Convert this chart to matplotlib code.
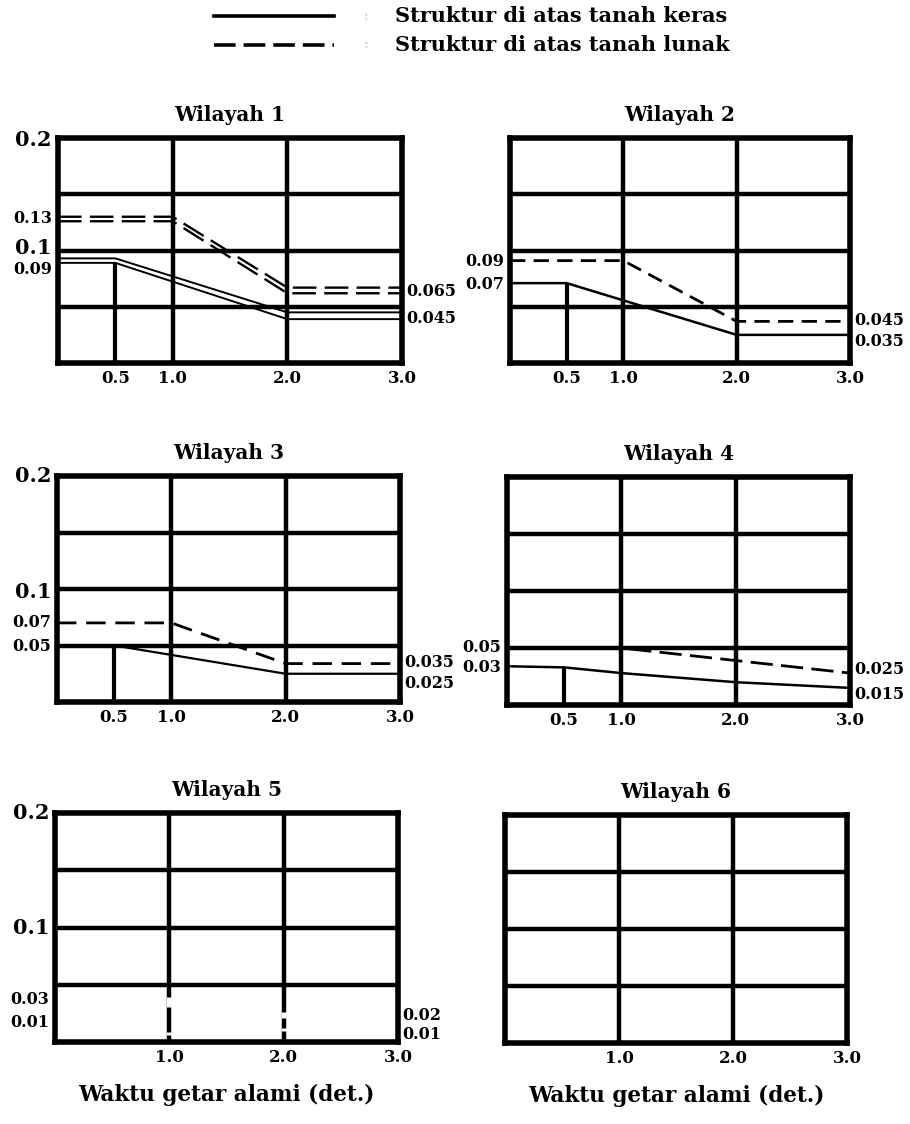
import numpy as np
import matplotlib
matplotlib.use("Agg")
import matplotlib.pyplot as plt
from matplotlib import transforms
from matplotlib.lines import Line2D

plt.rcParams["font.family"] = "DejaVu Serif"
plt.rcParams["font.weight"] = "bold"

# --- data (waktu getar T in det., koefisien C) ---
w1_keras_t = [0.0, 0.5, 2.0, 3.0]
w1_keras_upper = [0.093, 0.093, 0.045, 0.045]
w1_keras_lower = [0.089, 0.089, 0.039, 0.039]
w1_lunak_t = [0.0, 1.0, 2.0, 3.0]
w1_lunak_upper = [0.130, 0.130, 0.067, 0.067]
w1_lunak_lower = [0.126, 0.126, 0.062, 0.062]

w2_keras_t = [0.0, 0.5, 2.0, 3.0]
w2_keras = [0.071, 0.071, 0.025, 0.025]
w2_lunak_t = [0.0, 1.0, 2.0, 3.0]
w2_lunak = [0.091, 0.091, 0.037, 0.037]

w3_keras_t = [0.0, 0.5, 2.0, 3.0]
w3_keras = [0.050, 0.050, 0.025, 0.025]
w3_lunak_t = [0.0, 1.0, 2.0, 3.0]
w3_lunak = [0.070, 0.070, 0.034, 0.034]

w4_keras_t = [0.0, 0.5, 1.0, 2.0, 3.0]
w4_keras = [0.034, 0.033, 0.028, 0.020, 0.015]
w4_lunak_t = [0.0, 1.0, 2.0, 3.0]
w4_lunak = [0.050, 0.050, 0.039, 0.028]

# tick / value labels
w1_left = ["0.2", "0.13", "0.1", "0.09"]
w1_right = ["0.065", "0.045"]
w2_left = ["0.09", "0.07"]
w2_right = ["0.045", "0.035"]
w3_left = ["0.2", "0.1", "0.07", "0.05"]
w3_right = ["0.035", "0.025"]
w4_left = ["0.05", "0.03"]
w4_right = ["0.025", "0.015"]
w5_left = ["0.2", "0.1", "0.03", "0.01"]
w5_right = ["0.02", "0.01"]
xlabels_full = ["0.5", "1.0", "2.0", "3.0"]
xlabels_short = ["1.0", "2.0", "3.0"]

hgrid = [0.05, 0.1, 0.15]
vgrid = [1.0, 2.0]

legend_texts = ["Struktur di atas tanah keras", "Struktur di atas tanah lunak"]
xlabel_text = "Waktu getar alami (det.)"

# --- layout (pixels in a 910x1124 canvas) ---
W, H = 910, 1124
fig = plt.figure(figsize=(W / 100, H / 100), dpi=100)


def px_axes(left, top, right, bottom):
    return fig.add_axes([left / W, 1 - bottom / H, (right - left) / W, (bottom - top) / H])


def shift(dx, dy):
    # pixel offset (dy positive = up)
    return transforms.ScaledTranslation(dx / 100, dy / 100, fig.dpi_scale_trans)


def base_panel(ax, title, xlabels, left, right, left_nudge, right_nudge):
    ax.set_xlim(0, 3)
    ax.set_ylim(0, 0.2)
    for sp in ax.spines.values():
        sp.set_linewidth(4)
        sp.set_capstyle("projecting")
    for y in hgrid:
        ax.axhline(y, color="black", lw=3.2, zorder=1)
    for x in vgrid:
        ax.axvline(x, color="black", lw=3.2, zorder=1)
    ax.set_xticks([float(s) for s in xlabels], xlabels)
    ax.set_yticks([])
    ax.tick_params(axis="x", length=0, pad=5, labelsize=12)
    ax.set_title(title, fontsize=14.5, fontweight="bold", pad=12)

    left_tr = transforms.blended_transform_factory(ax.transAxes, ax.transData)
    for s, dy in zip(left, left_nudge):
        size = 15 if s in ("0.2", "0.1") else 11.5
        ax.text(0, float(s), s, transform=left_tr + shift(-6, dy), ha="right",
                va="center", fontsize=size, fontweight="bold", clip_on=False)
    for s, dy in zip(right, right_nudge):
        ax.text(1, float(s), s, transform=left_tr + shift(4, dy), ha="left",
                va="center", fontsize=11.5, fontweight="bold", clip_on=False)


def stub(ax, t, c):
    # short vertical line at T = 0.5 up to the hard-soil curve
    ax.plot([0.5, 0.5], [0, np.interp(0.5, t, c)], color="black", lw=3, zorder=2,
            solid_capstyle="butt")


# Wilayah 1
ax1 = px_axes(58, 138, 402, 363)
base_panel(ax1, "Wilayah 1", xlabels_full, w1_left, w1_right, [-2, -2, 3, -8], [-2, -6])
stub(ax1, w1_keras_t, w1_keras_lower)
ax1.plot(w1_keras_t, w1_keras_upper, color="black", lw=1.4, zorder=3)
ax1.plot(w1_keras_t, w1_keras_lower, color="black", lw=1.4, zorder=3)
ax1.plot(w1_lunak_t, w1_lunak_upper, color="black", lw=1.7, dashes=(10, 3.5), zorder=3)
ax1.plot(w1_lunak_t, w1_lunak_lower, color="black", lw=1.7, dashes=(10, 3.5), zorder=3)

# Wilayah 2
ax2 = px_axes(510, 138, 850, 363)
base_panel(ax2, "Wilayah 2", xlabels_full, w2_left, w2_right, [0, 0], [-8, -18])
stub(ax2, w2_keras_t, w2_keras)
ax2.plot(w2_keras_t, w2_keras, color="black", lw=1.8, zorder=3)
ax2.plot(w2_lunak_t, w2_lunak, color="black", lw=2, dashes=(5.5, 3), zorder=3)

# Wilayah 3
ax3 = px_axes(57, 476, 400, 702)
base_panel(ax3, "Wilayah 3", xlabels_full, w3_left, w3_right, [0, -3, 0, -1], [0, -10])
stub(ax3, w3_keras_t, w3_keras)
ax3.plot(w3_keras_t, w3_keras, color="black", lw=1.6, zorder=3)
ax3.plot(w3_lunak_t, w3_lunak, color="black", lw=2, dashes=(7, 3.5), zorder=3)

# Wilayah 4
ax4 = px_axes(507, 477, 850, 705)
base_panel(ax4, "Wilayah 4", xlabels_full, w4_left, w4_right, [0, 3], [7, -7])
stub(ax4, w4_keras_t, w4_keras)
ax4.plot(w4_keras_t, w4_keras, color="black", lw=1.8, zorder=3)
ax4.plot(w4_lunak_t, w4_lunak, color="black", lw=2, dashes=(8, 3), zorder=3)

# Wilayah 5 (vertical grid lines broken near the bottom)
ax5 = px_axes(55, 813, 398, 1042)
base_panel(ax5, "Wilayah 5", xlabels_short, w5_left, w5_right, [0, 0, 8, 8], [4, -4])
for x, lo, hi in [(1.0, 0.031, 0.039), (1.0, 0.006, 0.009), (2.0, 0.021, 0.026),
                  (2.0, 0.010, 0.012)]:
    ax5.plot([x, x], [lo, hi], color="white", lw=3.6, zorder=2, solid_capstyle="butt")
ax5.set_xlabel(xlabel_text, fontsize=15.5, fontweight="bold", labelpad=13)

# Wilayah 6
ax6 = px_axes(505, 815, 847, 1043)
base_panel(ax6, "Wilayah 6", xlabels_short, [], [], [], [])
ax6.set_xlabel(xlabel_text, fontsize=15.5, fontweight="bold", labelpad=13)

# legend at the top
for row, (y, dashed) in enumerate([(16, False), (45, True)]):
    ln = Line2D([214 / W, 334 / W], [1 - y / H, 1 - y / H], transform=fig.transFigure,
                color="black", lw=2.6)
    if dashed:
        ln.set_dashes((6, 2.2))
    fig.add_artist(ln)
    fig.text(366 / W, 1 - y / H, ":", color="#d0d0d0", fontsize=9, va="center", ha="center")
    fig.text(395 / W, 1 - y / H, legend_texts[row], fontsize=15, fontweight="bold",
             va="center", ha="left")

fig.savefig("out.png", dpi=100)
